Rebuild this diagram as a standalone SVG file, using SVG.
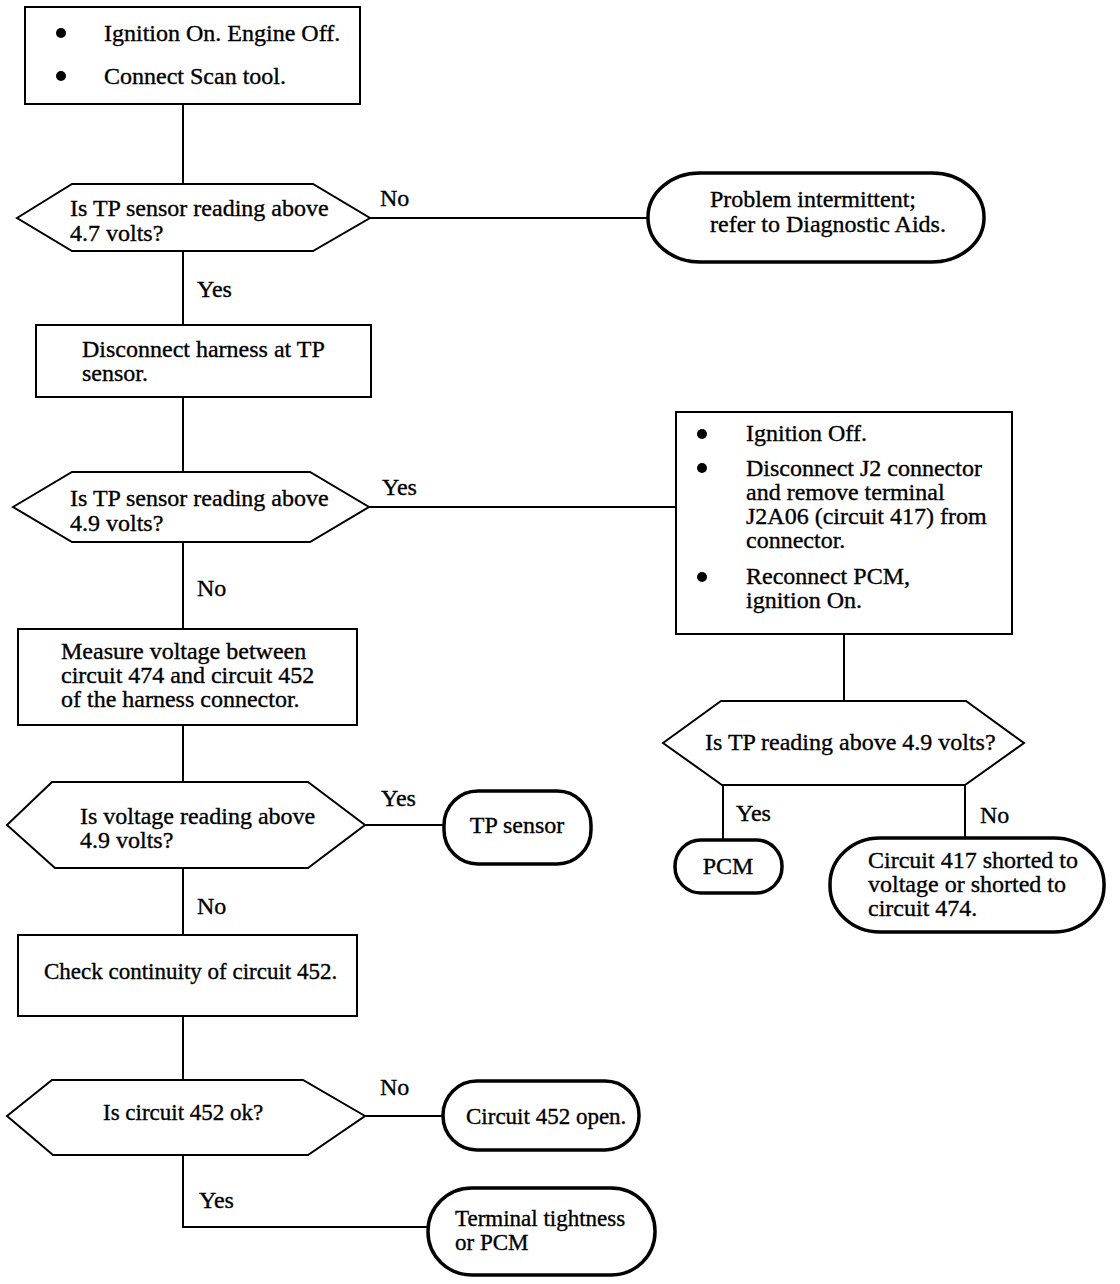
<svg xmlns="http://www.w3.org/2000/svg" width="1120" height="1284" viewBox="0 0 1120 1284">
<style>
.bx{fill:#fff;stroke:#000;stroke-width:2}
.tm{fill:#fff;stroke:#000;stroke-width:3.5}
.ln{fill:none;stroke:#000;stroke-width:2}
text{font-family:"Liberation Serif","Times New Roman",serif;font-size:24px;fill:#000;stroke:#000;stroke-width:0.35}
.s23{font-size:23px}
.dot{fill:#000}
</style>
<rect width="1120" height="1284" fill="#fff"/>
<g id="connectors">
<path class="ln" d="M183 105V184"/>
<path class="ln" d="M370 218H648"/>
<text x="380" y="206">No</text>
<path class="ln" d="M183 251V325"/>
<text x="197" y="297">Yes</text>
<path class="ln" d="M183 397V472"/>
<path class="ln" d="M369 507H676"/>
<text x="382" y="495">Yes</text>
<path class="ln" d="M183 542V630"/>
<text x="197" y="596">No</text>
<path class="ln" d="M844 634V701"/>
<path class="ln" d="M723 785V840"/>
<text x="736" y="821">Yes</text>
<path class="ln" d="M965 785V838"/>
<text x="980" y="823">No</text>
<path class="ln" d="M183 725V782"/>
<path class="ln" d="M365 825H444"/>
<text x="381" y="806">Yes</text>
<path class="ln" d="M183 868V935"/>
<text x="197" y="914">No</text>
<path class="ln" d="M183 1016V1080"/>
<path class="ln" d="M365 1116H443"/>
<text x="380" y="1095">No</text>
<path class="ln" d="M183 1155V1227H428"/>
<text x="199" y="1208">Yes</text>
</g>
<g id="n1">
<rect class="bx" x="25" y="7" width="335" height="97"/>
<circle class="dot" cx="61" cy="33" r="5"/>
<circle class="dot" cx="61" cy="76" r="5"/>
<text x="104" y="41">Ignition On. Engine Off.</text>
<text x="104" y="84">Connect Scan tool.</text>
</g>
<g id="d1">
<polygon class="bx" points="17,218 72,184 313,184 370,218 313,251 72,251"/>
<text x="70" y="216">Is TP sensor reading above</text>
<text x="70" y="241">4.7 volts?</text>
</g>
<g id="t1">
<rect class="tm" x="648" y="173" width="336" height="89" rx="52" ry="44"/>
<text x="710" y="207">Problem intermittent;</text>
<text x="710" y="232">refer to Diagnostic Aids.</text>
</g>
<g id="n2">
<rect class="bx" x="36" y="325" width="335" height="72"/>
<text x="82" y="357">Disconnect harness at TP</text>
<text x="82" y="381">sensor.</text>
</g>
<g id="d2">
<polygon class="bx" points="13,507 72,472 310,472 369,507 310,542 72,542"/>
<text x="70" y="506">Is TP sensor reading above</text>
<text x="70" y="531">4.9 volts?</text>
</g>
<g id="n3">
<rect class="bx" x="676" y="412" width="336" height="222"/>
<circle class="dot" cx="702" cy="434" r="5"/>
<circle class="dot" cx="702" cy="468" r="5"/>
<circle class="dot" cx="702" cy="577" r="5"/>
<text x="746" y="441">Ignition Off.</text>
<text x="746" y="476">Disconnect J2 connector</text>
<text x="746" y="500">and remove terminal</text>
<text x="746" y="524">J2A06 (circuit 417) from</text>
<text x="746" y="548">connector.</text>
<text x="746" y="584">Reconnect PCM,</text>
<text x="746" y="608">ignition On.</text>
</g>
<g id="d3">
<polygon class="bx" points="663,743 721,701 966,701 1024,743 965,785 722,785"/>
<text x="705" y="750">Is TP reading above 4.9 volts?</text>
</g>
<g id="t2">
<rect class="tm" x="675" y="840" width="107" height="53" rx="26" ry="26"/>
<text x="728" y="874" text-anchor="middle">PCM</text>
</g>
<g id="t3">
<rect class="tm" x="830" y="838" width="274" height="94" rx="50" ry="46"/>
<text x="868" y="868">Circuit 417 shorted to</text>
<text x="868" y="892">voltage or shorted to</text>
<text x="868" y="916">circuit 474.</text>
</g>
<g id="n4">
<rect class="bx" x="18" y="629" width="339" height="96"/>
<text x="61" y="659">Measure voltage between</text>
<text x="61" y="683">circuit 474 and circuit 452</text>
<text x="61" y="707">of the harness connector.</text>
</g>
<g id="d4">
<polygon class="bx" points="7,825 52,782 308,782 365,825 308,868 55,868"/>
<text x="80" y="824">Is voltage reading above</text>
<text x="80" y="848">4.9 volts?</text>
</g>
<g id="t4">
<rect class="tm" x="444" y="791" width="147" height="73" rx="34" ry="34"/>
<text x="517" y="833" text-anchor="middle">TP sensor</text>
</g>
<g id="n5">
<rect class="bx" x="18" y="935" width="339" height="81"/>
<text class="s23" x="44" y="979">Check continuity of circuit 452.</text>
</g>
<g id="d5">
<polygon class="bx" points="7,1116 52,1080 303,1080 365,1116 308,1155 53,1155"/>
<text class="s23" x="103" y="1120">Is circuit 452 ok?</text>
</g>
<g id="t5">
<rect class="tm" x="443" y="1081" width="196" height="69" rx="34" ry="34"/>
<text class="s23" x="466" y="1124">Circuit 452 open.</text>
</g>
<g id="t6">
<rect class="tm" x="428" y="1188" width="227" height="87" rx="44" ry="43"/>
<text class="s23" x="455" y="1226">Terminal tightness</text>
<text class="s23" x="455" y="1250">or PCM</text>
</g>
</svg>
